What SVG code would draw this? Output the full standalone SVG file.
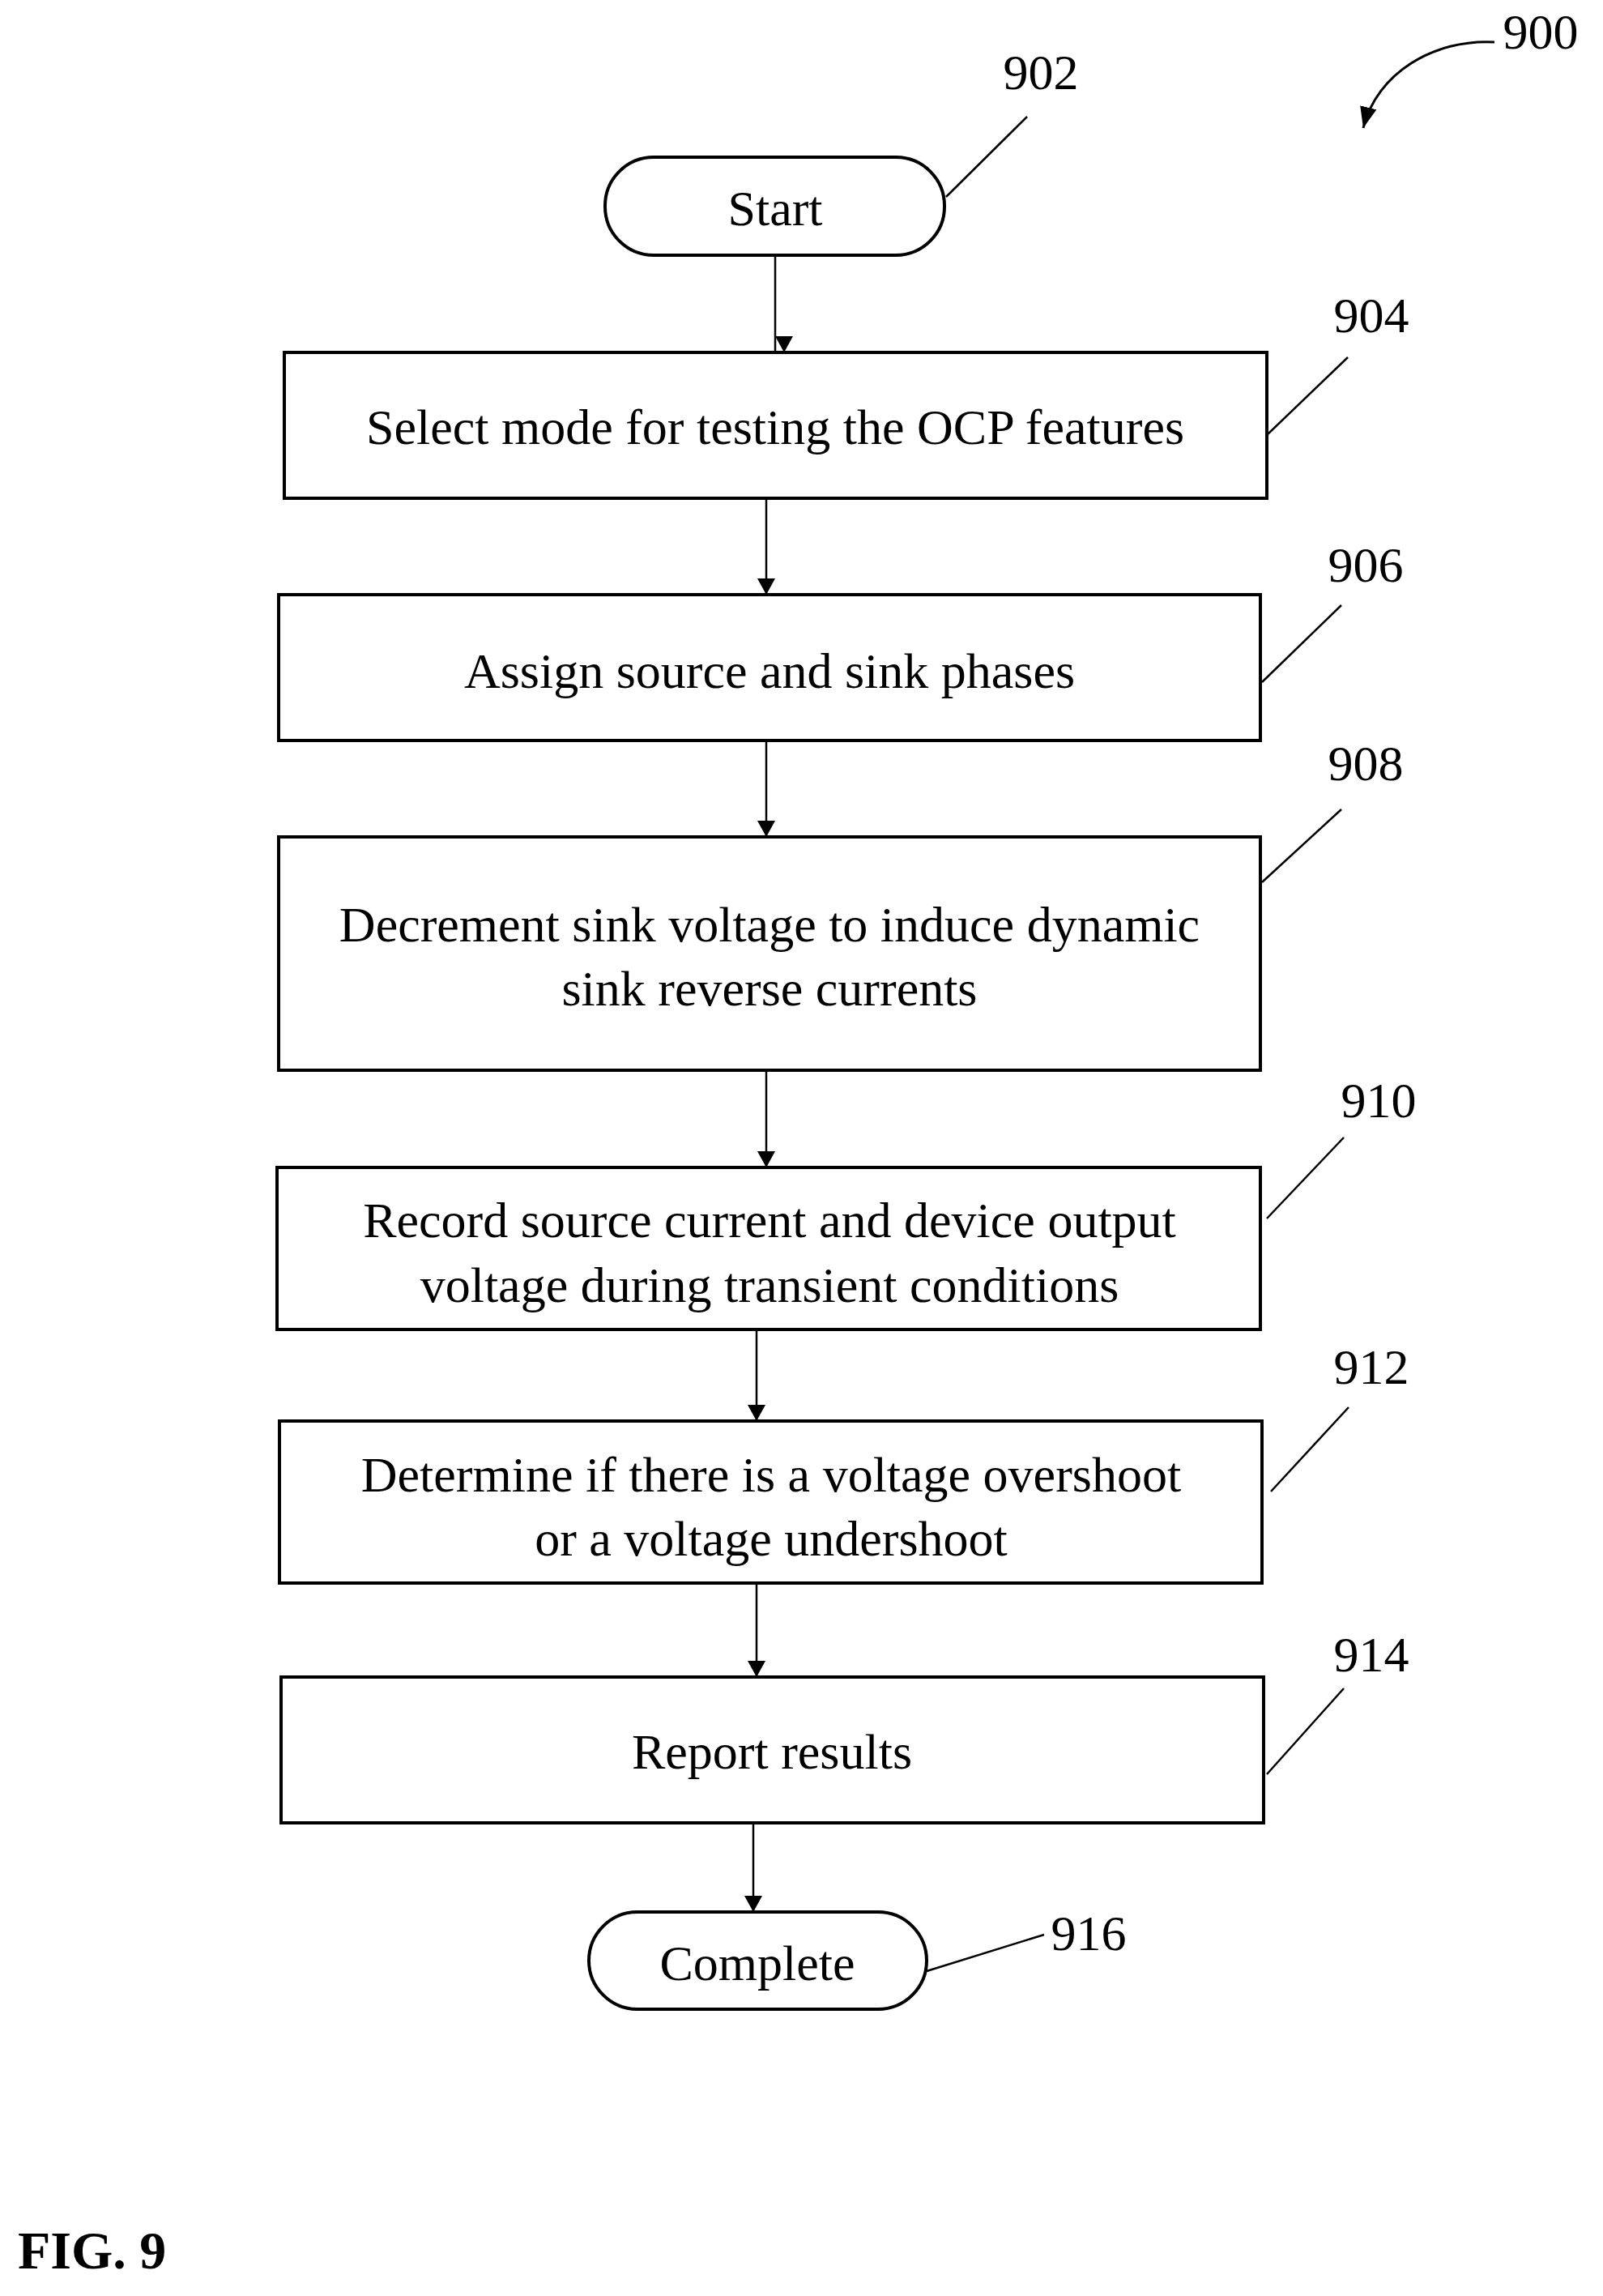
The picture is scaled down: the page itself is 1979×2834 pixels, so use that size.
<svg xmlns="http://www.w3.org/2000/svg" width="1979" height="2834" viewBox="0 0 1979 2834">
<defs>
<style>
.b{fill:#fff;stroke:#000;stroke-width:4}
.t{font-family:"Liberation Serif",serif;font-size:62px;text-anchor:middle;fill:#000}
.r{font-family:"Liberation Serif",serif;font-size:62px;fill:#000;text-anchor:middle}
.l{stroke:#000;stroke-width:2.5;fill:none}
.c{stroke:#000;stroke-width:2.5;fill:none;marker-end:url(#a)}
</style>
<marker id="a" viewBox="0 0 10 10" refX="10" refY="5" markerWidth="9" markerHeight="9" markerUnits="userSpaceOnUse" orient="auto"><path d="M0,0L10,5L0,10z" fill="#000"/></marker>
<marker id="a2" viewBox="0 0 10 10" refX="10" refY="5" markerWidth="26" markerHeight="26" markerUnits="userSpaceOnUse" orient="auto"><path d="M0,1L10,5L0,9z" fill="#000"/></marker>
</defs>
<g id="connectors">
<line class="c" x1="957" y1="315" x2="957" y2="435" style="marker-end:none"/>
<path d="M946,415 L957,435 L968,415z" transform="translate(11,0)"/>
<line class="l" x1="946" y1="615" x2="946" y2="734"/>
<path d="M935,714 L946,734 L957,714z"/>
<line class="l" x1="946" y1="914" x2="946" y2="1033"/>
<path d="M935,1013 L946,1033 L957,1013z"/>
<line class="l" x1="946" y1="1321" x2="946" y2="1441"/>
<path d="M935,1421 L946,1441 L957,1421z"/>
<line class="l" x1="934" y1="1641" x2="934" y2="1754"/>
<path d="M923,1734 L934,1754 L945,1734z"/>
<line class="l" x1="934" y1="1954" x2="934" y2="2070"/>
<path d="M923,2050 L934,2070 L945,2050z"/>
<line class="l" x1="930" y1="2250" x2="930" y2="2360"/>
<path d="M919,2340 L930,2360 L941,2340z"/>
</g>
<g id="leaders">
<line class="l" x1="1168" y1="243" x2="1268" y2="144"/>
<line class="l" x1="1565" y1="536" x2="1664" y2="441"/>
<line class="l" x1="1558" y1="842" x2="1656" y2="747"/>
<line class="l" x1="1558" y1="1089" x2="1656" y2="999"/>
<line class="l" x1="1564" y1="1504" x2="1659" y2="1404"/>
<line class="l" x1="1569" y1="1841" x2="1665" y2="1737"/>
<line class="l" x1="1564" y1="2190" x2="1659" y2="2084"/>
<line class="l" x1="1144" y1="2433" x2="1289" y2="2388"/>
<path d="M1845,52 C1770,48 1700,90 1683,158" stroke="#000" stroke-width="3" fill="none" marker-end="url(#a2)"/>
</g>
<g id="n902"><rect class="b" x="747" y="194" width="419" height="121" rx="60"/><text class="t" x="957" y="278">Start</text></g>
<g id="n904"><rect class="b" x="351" y="435" width="1213" height="180"/><text class="t" x="957" y="548">Select mode for testing the OCP features</text></g>
<g id="n906"><rect class="b" x="344" y="734" width="1212" height="180"/><text class="t" x="950" y="849">Assign source and sink phases</text></g>
<g id="n908"><rect class="b" x="344" y="1033" width="1212" height="288"/><text class="t" x="950" y="1162">Decrement sink voltage to induce dynamic</text><text class="t" x="950" y="1241">sink reverse currents</text></g>
<g id="n910"><rect class="b" x="342" y="1441" width="1214" height="200"/><text class="t" x="950" y="1527">Record source current and device output</text><text class="t" x="950" y="1607">voltage during transient conditions</text></g>
<g id="n912"><rect class="b" x="345" y="1754" width="1213" height="200"/><text class="t" x="952" y="1841">Determine if there is a voltage overshoot</text><text class="t" x="952" y="1920">or a voltage undershoot</text></g>
<g id="n914"><rect class="b" x="347" y="2070" width="1213" height="180"/><text class="t" x="953" y="2183">Report results</text></g>
<g id="n916"><rect class="b" x="727" y="2360" width="417" height="120" rx="60"/><text class="t" x="935" y="2444">Complete</text></g>
<g id="labels">
<text class="r" x="1285" y="110">902</text>
<text class="r" x="1693" y="410">904</text>
<text class="r" x="1686" y="718">906</text>
<text class="r" x="1686" y="963">908</text>
<text class="r" x="1702" y="1379">910</text>
<text class="r" x="1693" y="1708">912</text>
<text class="r" x="1693" y="2063">914</text>
<text class="r" x="1344" y="2407">916</text>
<text class="r" x="1902" y="60">900</text>
<text x="22" y="2800" style="font-family:'Liberation Serif',serif;font-size:66px;font-weight:bold">FIG. 9</text>
</g>
</svg>
